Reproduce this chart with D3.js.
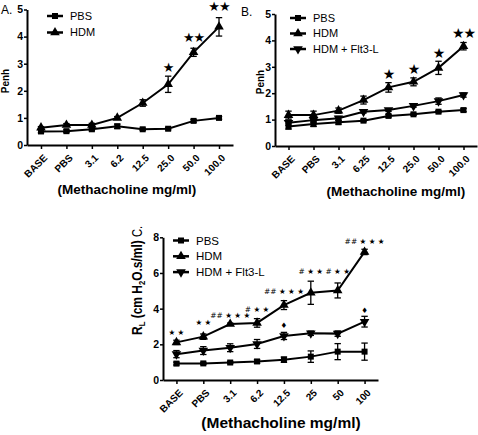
<!DOCTYPE html>
<html><head><meta charset="utf-8">
<script src="https://cdn.jsdelivr.net/npm/d3@7/dist/d3.min.js"></script>
<style>body{margin:0;background:#fff}svg{display:block}</style>
</head><body>
<script>
// ---------- DATA ----------
const catsA = ["BASE","PBS","3.1","6.2","12.5","25.0","50.0","100.0"];
const catsB = ["BASE","PBS","3.1","6.25","12.5","25.0","50.0","100.0"];
const catsC = ["BASE","PBS","3.1","6.2","12.5","25","50","100"];

const aPBS    = [0.50,0.51,0.58,0.69,0.58,0.60,0.89,1.00];
const aPBSerr = [0.05,0.05,0.05,0.08,0.04,0.04,0.05,0.05];
const aHDM    = [0.64,0.74,0.74,1.00,1.55,2.24,3.42,4.36];
const aHDMerr = [0.04,0.05,0.06,0.05,0.12,0.30,0.15,0.34];

const bPBS    = [0.74,0.83,0.90,0.96,1.14,1.20,1.30,1.36];
const bPBSerr = [0.10,0.09,0.07,0.04,0.05,0.04,0.04,0.06];
const bHDM    = [1.17,1.17,1.34,1.74,2.22,2.43,2.96,3.78];
const bHDMerr = [0.15,0.15,0.10,0.15,0.18,0.15,0.25,0.14];
const bFlt    = [0.88,0.98,1.05,1.30,1.36,1.52,1.70,1.93];
const bFlterr = [0.10,0.10,0.07,0.05,0.05,0.05,0.12,0.08];

const cPBS    = [0.92,0.93,0.98,1.04,1.14,1.31,1.59,1.59];
const cPBSerr = [0.08,0.06,0.06,0.10,0.15,0.32,0.45,0.48];
const cHDM    = [2.11,2.43,3.14,3.20,4.20,4.89,5.02,7.18];
const cHDMerr = [0.12,0.15,0.05,0.24,0.25,0.65,0.42,0.15];
const cFlt    = [1.45,1.65,1.81,2.02,2.47,2.62,2.60,3.27];
const cFlterr = [0.20,0.22,0.22,0.25,0.20,0.12,0.15,0.30];

const ticksAB = [0,1,2,3,4,5];
const ticksC  = [0,2,4,6,8];

// significance marks: category, y value (data units), text
const starsA = [
  {cat:"25.0", y:2.87, t:"★"},
  {cat:"50.0", y:3.98, t:"★★"},
  {cat:"100.0", y:5.12, t:"★★"}
];
const starsB = [
  {cat:"12.5", y:2.72, t:"★"},
  {cat:"25.0", y:2.92, t:"★"},
  {cat:"50.0", y:3.52, t:"★"},
  {cat:"100.0", y:4.27, t:"★★"}
];
const marksC = [
  {cat:"BASE", y:2.69, t:"★ ★"},
  {cat:"PBS",  y:3.25, t:"★ ★"},
  {cat:"3.1",  y:3.64, t:"## ★ ★ ★"},
  {cat:"6.2",  y:3.98, t:"# ★ ★"},
  {cat:"12.5", y:4.99, t:"## ★ ★ ★"},
  {cat:"25",   y:6.11, t:"# ★ ★"},
  {cat:"50",   y:6.11, t:"# ★ ★"},
  {cat:"100",  y:7.79, t:"## ★ ★ ★"},
  {cat:"12.5", y:3.08, t:"♦"},
  {cat:"100",  y:3.92, t:"♦"}
];

// ---------- DRAW ----------
const W = 478, H = 435;
const svg = d3.select("body").append("svg").attr("width", W).attr("height", H);
const FONT = "'Liberation Sans', Arial, Helvetica, sans-serif";
const SYM = "'DejaVu Sans', sans-serif";

function markerPath(kind, size) {
  if (kind === "square") return d3.symbol(d3.symbolSquare, size)();
  return d3.symbol(d3.symbolTriangle, size)();
}

function panel(o) {
  const g = svg.append("g");
  const x = d3.scalePoint().domain(o.cats).range(o.xr).padding(o.pad);
  const y = d3.scaleLinear().domain(o.yd).range(o.yr);

  const ya = g.append("g").attr("transform", `translate(${o.xr[0]},0)`)
    .call(d3.axisLeft(y).tickValues(o.ticks).tickSize(3).tickSizeOuter(0).tickPadding(1).tickFormat(d3.format("d")));
  ya.select(".domain").attr("stroke-width", 2);
  ya.selectAll(".tick line").attr("stroke-width", 1.5);
  ya.selectAll("text").attr("font-family", FONT).attr("font-weight", "bold").attr("font-size", o.ytf).attr("fill", "#000");

  const xa = g.append("g").attr("transform", `translate(0,${o.yr[0]})`)
    .call(d3.axisBottom(x).tickSize(4).tickSizeOuter(0));
  xa.select(".domain").attr("stroke-width", 2);
  xa.selectAll(".tick line").attr("stroke-width", 1.5);
  xa.selectAll("text").attr("font-family", FONT).attr("font-weight", "bold").attr("font-size", o.xtf)
    .attr("fill", "#000").attr("text-anchor", "end").attr("y", 0).attr("dy", "0.35em")
    .attr("transform", "translate(4,11) rotate(-45)");

  o.series.forEach(s => {
    const pts = o.cats.map((c, i) => ({c, v: s.v[i], e: s.e[i]}));
    g.append("path").datum(pts)
      .attr("fill", "none").attr("stroke", "#000").attr("stroke-width", 2)
      .attr("d", d3.line().x(d => x(d.c)).y(d => y(d.v)));
    const eb = g.append("g");
    pts.forEach(d => {
      const x0 = x(d.c), y1 = y(d.v - d.e), y2 = y(d.v + d.e);
      eb.append("line").attr("x1", x0).attr("x2", x0).attr("y1", y1).attr("y2", y2).attr("stroke", "#000").attr("stroke-width", 1.3);
      [y1, y2].forEach(yy => eb.append("line").attr("x1", x0 - 3.2).attr("x2", x0 + 3.2).attr("y1", yy).attr("y2", yy).attr("stroke", "#000").attr("stroke-width", 1.3));
    });
    g.append("g").selectAll("path").data(pts).join("path")
      .attr("d", markerPath(s.m, s.m === "square" ? 36 : 40))
      .attr("transform", d => `translate(${x(d.c)},${y(d.v)})` + (s.m === "down" ? " rotate(180)" : ""))
      .attr("fill", "#000");
  });

  o.series.forEach((s, i) => {
    const ly = o.leg.y + i * o.leg.dy;
    g.append("line").attr("x1", o.leg.x).attr("x2", o.leg.x + o.leg.w).attr("y1", ly).attr("y2", ly)
      .attr("stroke", "#000").attr("stroke-width", 2.5);
    g.append("path").attr("d", markerPath(s.m, s.m === "square" ? 36 : 40))
      .attr("transform", `translate(${o.leg.x + o.leg.w / 2},${ly})` + (s.m === "down" ? " rotate(180)" : ""))
      .attr("fill", "#000");
    g.append("text").attr("x", o.leg.x + o.leg.w + 7).attr("y", ly).attr("dy", "0.36em")
      .attr("font-family", FONT).attr("font-size", o.leg.fs).text(s.name);
  });

  g.append("g").selectAll("text").data(o.marks).join("text")
    .attr("x", d => x(d.cat)).attr("y", d => y(d.y)).attr("dy", "0.36em")
    .attr("text-anchor", "middle").attr("font-family", SYM).attr("font-size", o.markFs)
    .attr("letter-spacing", o.markLs || 0)
    .text(d => d.t);

  g.append("text").attr("x", o.xt.x).attr("y", o.xt.y).attr("text-anchor", "middle")
    .attr("font-family", FONT).attr("font-weight", "bold").attr("font-size", o.xt.fs).text("(Methacholine mg/ml)");
  return {g, x, y};
}

// Panel A
const pA = panel({
  cats: catsA, xr: [27, 233], pad: 0.55, yd: [0, 5], yr: [145, 9.5], ticks: ticksAB, ytf: 10.5, xtf: 10,
  series: [
    {name: "PBS", v: aPBS, e: aPBSerr, m: "square"},
    {name: "HDM", v: aHDM, e: aHDMerr, m: "up"}
  ],
  leg: {x: 47, y: 16, dy: 16.5, w: 16, fs: 11},
  marks: starsA, markFs: 13, markLs: -1,
  xt: {x: 127, y: 194, fs: 13.5}
});
pA.g.append("text").attr("transform", "translate(9,81) rotate(-90)").attr("text-anchor", "middle")
  .attr("font-family", FONT).attr("font-weight", "bold").attr("font-size", 10).text("Penh");
pA.g.append("text").attr("x", 1).attr("y", 14).attr("font-family", FONT).attr("font-size", 12).text("A.");

// Panel B
const pB = panel({
  cats: catsB, xr: [275, 477], pad: 0.54, yd: [0, 5], yr: [146, 14], ticks: ticksAB, ytf: 10.5, xtf: 10,
  series: [
    {name: "PBS", v: bPBS, e: bPBSerr, m: "square"},
    {name: "HDM", v: bHDM, e: bHDMerr, m: "up"},
    {name: "HDM + Flt3-L", v: bFlt, e: bFlterr, m: "down"}
  ],
  leg: {x: 290, y: 18, dy: 15.5, w: 16, fs: 11},
  marks: starsB, markFs: 14, markLs: -1,
  xt: {x: 396, y: 196, fs: 13.5}
});
pB.g.append("text").attr("transform", "translate(264,82) rotate(-90)").attr("text-anchor", "middle")
  .attr("font-family", FONT).attr("font-weight", "bold").attr("font-size", 10).text("Penh");
pB.g.append("text").attr("x", 241).attr("y", 16).attr("font-family", FONT).attr("font-size", 12).text("B.");

// Panel C
const pC = panel({
  cats: catsC, xr: [163, 378], pad: 0.5, yd: [0, 8], yr: [380, 237.3], ticks: ticksC, ytf: 10.5, xtf: 10,
  series: [
    {name: "PBS", v: cPBS, e: cPBSerr, m: "square"},
    {name: "HDM", v: cHDM, e: cHDMerr, m: "up"},
    {name: "HDM + Flt3-L", v: cFlt, e: cFlterr, m: "down"}
  ],
  leg: {x: 173, y: 240.5, dy: 15.8, w: 16, fs: 11.5},
  marks: marksC, markFs: 7.5, markLs: 0,
  xt: {x: 281, y: 428, fs: 15.5}
});
const yl = pC.g.append("text").attr("transform", "translate(142,335) rotate(-90) scale(0.8,1)")
  .attr("font-family", FONT).attr("font-size", 15);
yl.append("tspan").attr("font-weight", "bold").text("R");
yl.append("tspan").attr("font-weight", "bold").attr("font-size", 9.5).attr("dy", 3).text("L");
yl.append("tspan").attr("font-weight", "bold").attr("dy", -3).text(" (cm H");
yl.append("tspan").attr("font-weight", "bold").attr("font-size", 9.5).attr("dy", 3).text("2");
yl.append("tspan").attr("font-weight", "bold").attr("dy", -3).text("O.s/ml)");
yl.append("tspan").attr("font-size", 14).text(" C.");
</script>
</body></html>
